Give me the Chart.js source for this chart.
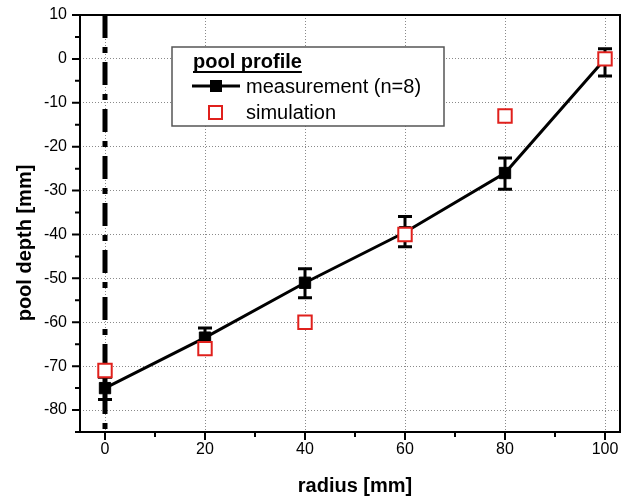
<!DOCTYPE html>
<html>
<head>
<meta charset="utf-8">
<script src="https://cdn.jsdelivr.net/npm/chart.js@4"></script>
<style>
  html, body { margin: 0; padding: 0; background: #fff; }
  #wrap { width: 621px; height: 499px; }
</style>
</head>
<body>
<div id="wrap"><canvas id="chart" width="621" height="499"></canvas></div>
<script>
// data
const radius = [0, 20, 40, 60, 80, 100];
const measured = [-75, -63.5, -51, -39.5, -26, 0];
const errUpper = [-72.5, -61.3, -47.8, -35.9, -22.6, 2.3];
const errLower = [-77.6, -65.2, -54.4, -42.8, -29.7, -3.9];
const simulated = [-71, -66, -60, -40, -13, 0];
const xLabelTicks = [0, 20, 40, 60, 80, 100];
const yLabelTicks = [10, 0, -10, -20, -30, -40, -50, -60, -70, -80];

const FONT = "'Liberation Sans', Arial, sans-serif";

const plotDeco = {
  id: "plotDeco",
  beforeDatasetsDraw(chart) {
    // dash-dot line at r = 0
    const { ctx, chartArea, scales } = chart;
    const x0 = scales.x.getPixelForValue(0);
    ctx.save();
    ctx.strokeStyle = "#000";
    ctx.lineWidth = 5;
    ctx.setLineDash([23, 9, 6, 9]);
    ctx.beginPath();
    ctx.moveTo(x0, chartArea.top);
    ctx.lineTo(x0, chartArea.bottom);
    ctx.stroke();
    ctx.restore();
  },
  afterDatasetDraw(chart, args) {
    if (args.index !== 1) return;
    const { ctx, scales } = chart;
    ctx.save();
    ctx.strokeStyle = "#000";
    ctx.lineWidth = 3;
    radius.forEach((r, i) => {
      const px = scales.x.getPixelForValue(r);
      const top = scales.y.getPixelForValue(errUpper[i]);
      const bot = scales.y.getPixelForValue(errLower[i]);
      ctx.beginPath();
      ctx.moveTo(px, top); ctx.lineTo(px, bot);
      ctx.moveTo(px - 7, top); ctx.lineTo(px + 7, top);
      ctx.moveTo(px - 7, bot); ctx.lineTo(px + 7, bot);
      ctx.stroke();
    });
    ctx.restore();
  },
  afterDraw(chart) {
    const { ctx, chartArea: a, scales } = chart;
    ctx.save();
    // frame
    ctx.strokeStyle = "#000";
    ctx.lineWidth = 2;
    ctx.strokeRect(a.left, a.top, a.right - a.left, a.bottom - a.top);

    // outward ticks
    ctx.beginPath();
    for (let v = 0; v <= 100; v += 10) {
      const px = scales.x.getPixelForValue(v);
      const len = v % 20 === 0 ? 8 : 5;
      ctx.moveTo(px, a.bottom); ctx.lineTo(px, a.bottom + len);
    }
    for (let v = -85; v <= 10; v += 5) {
      const py = scales.y.getPixelForValue(v);
      const len = v % 10 === 0 ? 8 : 5;
      ctx.moveTo(a.left, py); ctx.lineTo(a.left - len, py);
    }
    ctx.stroke();

    // axis titles
    ctx.fillStyle = "#000";
    ctx.font = "bold 20px " + FONT;
    ctx.textAlign = "center";
    ctx.textBaseline = "alphabetic";
    ctx.fillText("radius [mm]", 355, 492);
    ctx.save();
    ctx.translate(31, 243);
    ctx.rotate(-Math.PI / 2);
    ctx.fillText("pool depth [mm]", 0, 0);
    ctx.restore();

    // legend
    ctx.fillStyle = "#fff";
    ctx.fillRect(172, 47, 272, 79);
    ctx.strokeStyle = "#555";
    ctx.lineWidth = 1.5;
    ctx.strokeRect(172, 47, 272, 79);

    ctx.fillStyle = "#000";
    ctx.textAlign = "left";
    ctx.font = "bold 20px " + FONT;
    ctx.fillText("pool profile", 193, 68);
    const tw = ctx.measureText("pool profile").width;
    ctx.fillRect(193, 71, tw, 2);

    ctx.strokeStyle = "#000";
    ctx.lineWidth = 3;
    ctx.beginPath();
    ctx.moveTo(192, 86); ctx.lineTo(240, 86);
    ctx.stroke();
    ctx.fillRect(210, 80, 12, 12);

    ctx.strokeStyle = "#e0201c";
    ctx.lineWidth = 2;
    ctx.strokeRect(209, 106, 13, 13);

    ctx.font = "20px " + FONT;
    ctx.fillText("measurement (n=8)", 246, 93);
    ctx.fillText("simulation", 246, 119);
    ctx.restore();
  }
};

const gridColor = (ctx, step) =>
  ctx.tick && Math.round(ctx.tick.value) % step === 0 ? "#8a8a8a" : "rgba(0,0,0,0)";

const stepTicks = (from, to, step) => {
  const out = [];
  for (let v = from; v <= to; v += step) out.push({ value: v });
  return out;
};

new Chart(document.getElementById("chart"), {
  type: "scatter",
  data: {
    datasets: [
      {
        label: "simulation",
        data: radius.map((r, i) => ({ x: r, y: simulated[i] })),
        showLine: false,
        pointStyle: "rect",
        pointRadius: 9.5,
        pointBorderWidth: 2,
        pointBorderColor: "#e0201c",
        pointBackgroundColor: "#fff"
      },
      {
        label: "measurement (n=8)",
        data: radius.map((r, i) => ({ x: r, y: measured[i] })),
        showLine: true,
        borderColor: "#000",
        borderWidth: 3,
        pointStyle: "rect",
        pointRadius: 8,
        pointBorderWidth: 1,
        pointBorderColor: "#000",
        pointBackgroundColor: "#000"
      }
    ]
  },
  options: {
    responsive: false,
    animation: false,
    layout: { autoPadding: false, padding: { top: 15, right: 1, left: 0, bottom: 0 } },
    plugins: { legend: { display: false }, tooltip: { enabled: false } },
    scales: {
      x: {
        type: "linear",
        min: -5,
        max: 103,
        afterBuildTicks: (s) => { s.ticks = stepTicks(-5, 100, 5); },
        afterFit: (s) => {
          s.height = 67;
          s.paddingLeft = 0;
          s.paddingRight = 0;
        },
        border: { display: false, dash: [1, 2] },
        grid: {
          drawTicks: false,
          lineWidth: 1,
          color: (ctx) => gridColor(ctx, 20)
        },
        ticks: {
          autoSkip: false,
          maxRotation: 0,
          padding: 8,
          color: "#000",
          font: { family: FONT, size: 16 },
          callback: (v) => (xLabelTicks.includes(v) ? String(v) : "")
        }
      },
      y: {
        type: "linear",
        min: -85,
        max: 10,
        afterBuildTicks: (s) => { s.ticks = stepTicks(-85, 10, 5); },
        afterFit: (s) => {
          s.width = 80;
          s.paddingTop = 0;
          s.paddingBottom = 0;
        },
        border: { display: false, dash: [1, 2] },
        grid: {
          drawTicks: false,
          lineWidth: 1,
          color: (ctx) => gridColor(ctx, 10)
        },
        ticks: {
          autoSkip: false,
          padding: 13,
          color: "#000",
          font: { family: FONT, size: 16 },
          callback: (v) => (yLabelTicks.includes(v) ? String(v) : "")
        }
      }
    }
  },
  plugins: [plotDeco]
});
</script>
</body>
</html>
